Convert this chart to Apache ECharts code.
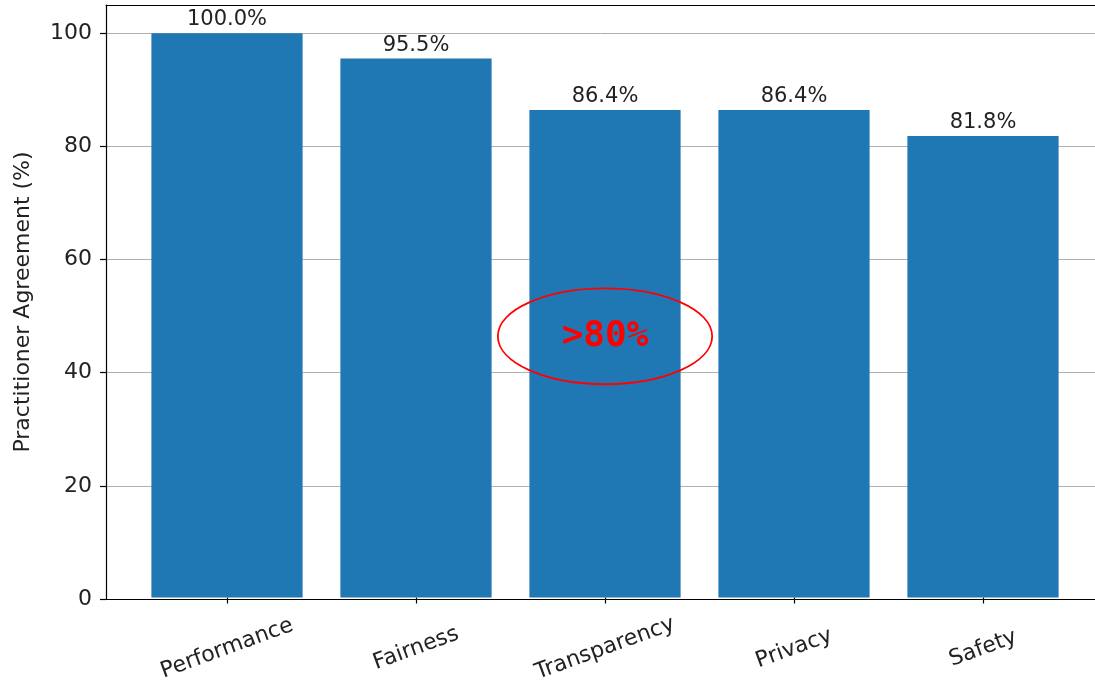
<!DOCTYPE html>
<html><head><meta charset="utf-8">
<script src="https://cdn.jsdelivr.net/npm/echarts@6/dist/echarts.min.js"></script>
<style>html,body{margin:0;padding:0;background:#fff}#c{width:1095px;height:685px}</style>
</head><body><div id="c"></div>
<script>
const categories = ['Performance', 'Fairness', 'Transparency', 'Privacy', 'Safety'];
const agreement = [100.0, 95.5, 86.4, 86.4, 81.8];
const yTicks = [0, 20, 40, 60, 80, 100];
const annotationText = '>80%';
const annotationCenter = [2, 46.3];    // category index, value
const annotationRadius = [0.567, 8.5]; // half width in categories, half height in value units

const font = 'DejaVu Sans';
const chart = echarts.init(document.getElementById('c'));
chart.setOption({
  animation: false,
  grid: [
    {left: 106, top: 5, right: -9, bottom: 86},
    {left: 132.5, top: 5, width: 945, bottom: 86}
  ],
  xAxis: [
    {type: 'value', gridIndex: 0, min: 0, max: 1, axisLine: {show: true, lineStyle: {color: '#000', width: 1.2}}, axisTick: {show: false}, axisLabel: {show: false}, splitLine: {show: false}, z: 5},
    {type: 'value', gridIndex: 0, position: 'top', min: 0, max: 1, axisLine: {show: true, lineStyle: {color: '#000', width: 1.2}}, axisTick: {show: false}, axisLabel: {show: false}, splitLine: {show: false}},
    {type: 'category', gridIndex: 1, data: categories,
     axisLine: {show: false}, axisTick: {show: true, alignWithLabel: true, length: 6, inside: false, lineStyle: {color: '#000', width: 1.2}},
     axisLabel: {rotate: 20, align: 'center', verticalAlign: 'middle', margin: 51, fontFamily: font, fontSize: 22, color: '#222'}}
  ],
  yAxis: [
    {type: 'value', gridIndex: 0, min: 0, max: 105, interval: 20,
     name: 'Practitioner Agreement (%)', nameLocation: 'middle', nameGap: 72,
     nameTextStyle: {fontFamily: font, fontSize: 22, color: '#222'},
     axisLine: {show: true, lineStyle: {color: '#000', width: 1.2}},
     axisTick: {show: true, length: 6, customValues: yTicks, lineStyle: {color: '#000', width: 1.2}},
     axisLabel: {fontFamily: font, fontSize: 22, color: '#222', margin: 14, customValues: yTicks},
     splitLine: {show: true, lineStyle: {color: '#b0b0b0', width: 1}}},
    {type: 'value', gridIndex: 1, min: 0, max: 105, interval: 20, show: false, splitLine: {show: false}}
  ],
  series: [
    {type: 'bar', xAxisIndex: 2, yAxisIndex: 1, data: agreement, barWidth: '80%', z: 1,
     itemStyle: {color: '#1f77b4', borderWidth: 0, borderColor: '#1f77b4'},
     label: {show: true, position: 'top', distance: 3, fontFamily: font, fontSize: 21, color: '#222', formatter: p => p.value.toFixed(1) + '%'}}
  ]
});

function drawAnnotation() {
  const c = chart.convertToPixel({xAxisIndex: 2, yAxisIndex: 1}, annotationCenter);
  const catW = chart.convertToPixel({xAxisIndex: 2}, 1) - chart.convertToPixel({xAxisIndex: 2}, 0);
  const rx = annotationRadius[0] * catW;
  const ry = chart.convertToPixel({yAxisIndex: 1}, 0) - chart.convertToPixel({yAxisIndex: 1}, annotationRadius[1]);
  chart.setOption({
    graphic: [
      {type: 'ellipse', shape: {cx: c[0], cy: c[1], rx: rx, ry: ry}, style: {fill: 'none', stroke: '#ff0000', lineWidth: 1.8}, z: 10},
      {type: 'text', x: c[0], y: c[1], style: {text: annotationText, fill: '#ff0000', font: 'bold 36px "DejaVu Sans Mono", monospace', align: 'center', verticalAlign: 'middle'}, z: 11}
    ]
  });
}
drawAnnotation();
</script></body></html>
